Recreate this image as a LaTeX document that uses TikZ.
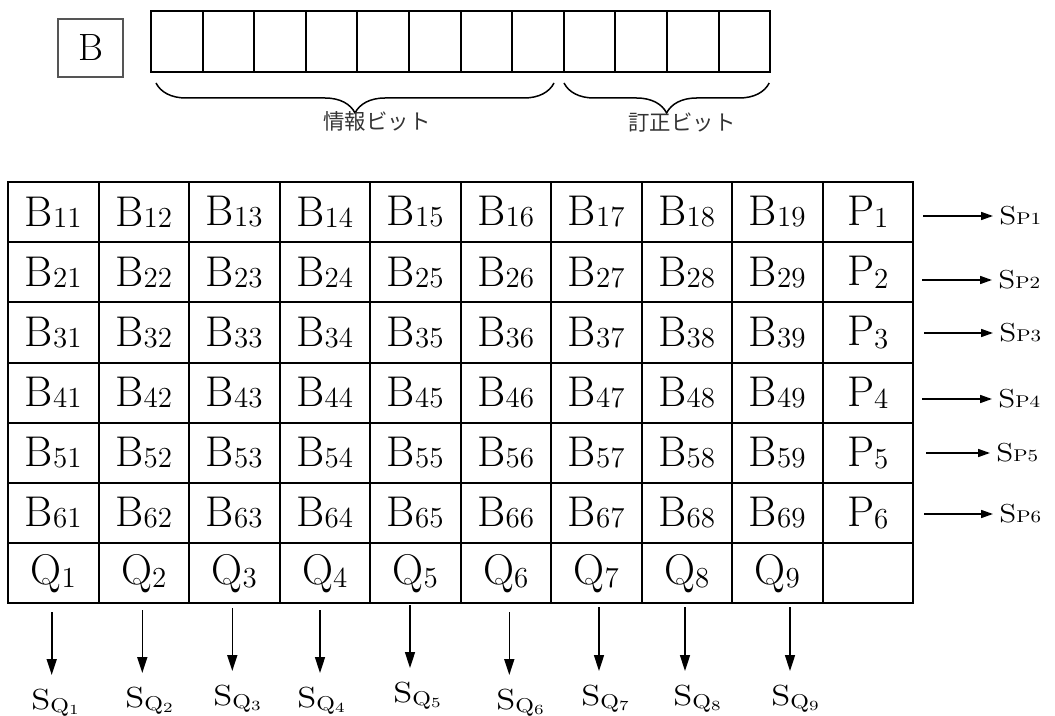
\documentclass[tikz,border=0pt]{standalone}
\usepackage{fontspec}
\usepackage{tikz}
\usetikzlibrary{arrows.meta, positioning, decorations.pathreplacing}
\newfontfamily\jpfont{Noto Sans CJK JP}
\definecolor{boxgray}{HTML}{555555}
\definecolor{jpgray}{HTML}{333333}
\newcommand\sbit[3][-0.5pt]{#2\raisebox{#1}{\fontsize{14.5}{15}\selectfont #3}}
\newcommand\wide[2][1.2]{\scalebox{#1}[1]{#2}}
\newcommand\sq[1]{S\raisebox{-1.2pt}{\fontsize{10}{10}\selectfont Q\raisebox{-1pt}{\fontsize{7}{7}\selectfont #1}}}
\tikzstyle{cellbox} = [rectangle, draw, line width=1pt, minimum width=45.25pt, minimum height=30.1pt,
  inner sep=0pt, font=\fontsize{21.5}{23}\selectfont]
\tikzstyle{bitbox} = [rectangle, draw, line width=1pt, minimum width=25.8pt, minimum height=30.5pt, inner sep=0pt]
\tikzstyle{bbox} = [rectangle, draw=boxgray, line width=0.6pt, minimum width=32.5pt, minimum height=29pt,
  font=\fontsize{19}{21}\selectfont]
\tikzstyle{jplabel} = [font=\jpfont\fontsize{10.7}{12}\selectfont, text=jpgray, inner sep=0pt]
\tikzstyle{bitbrace} = [decorate, decoration={brace, mirror, amplitude=15pt}, line width=0.75pt]
\tikzstyle{arrow} = [line width=0.8pt, -{Triangle[length=6pt, width=4pt]}]
\tikzstyle{downarrow} = [line width=0.8pt, -{Triangle[length=8pt, width=5pt]}]
\tikzstyle{slabel} = [anchor=west, inner sep=3pt, font=\fontsize{13}{15}\selectfont]
\tikzstyle{qlabel} = [anchor=north, inner xsep=0pt, inner ysep=7pt, font=\fontsize{14.5}{16}\selectfont]

\begin{document}
\begin{tikzpicture}[x=0.5pt, y=-0.5pt]
  \useasboundingbox (0,0) rectangle (1055,716);

  % code word
  \node (b) [bbox] at (90.5,48) {B};
  \foreach \i in {1,...,12}
    \node (bit\i) [bitbox] at ({151+51.6*(\i-0.5)},41.5) {};
  \draw[bitbrace] ([xshift=3pt,yshift=-5pt]bit1.south west) -- ([xshift=-5.4pt,yshift=-5pt]bit8.south east);
  \draw[bitbrace] ([xshift=0.6pt,yshift=-5pt]bit9.south west) -- ([xshift=-1pt,yshift=-5pt]bit12.south east);
  \node (info) [jplabel] at (377,121) {情報ビット};
  \node (corr) [jplabel] at (682,123) {訂正ビット};

  % block
  \foreach \r in {1,...,6} {
    \foreach \c in {1,...,9}
      \node (b\r\c) [cellbox] at ({8+90.5*(\c-0.5)},{182+60.2*(\r-0.5)}) {\sbit{B}{\r\c}};
    \node (p\r) [cellbox] at ({8+90.5*9.5},{182+60.2*(\r-0.5)}) {\sbit[-1.2pt]{P}{\r}};
  }
  \foreach \c in {1,...,9}
    \node (q\c) [cellbox] at ({8+90.5*(\c-0.5)},{182+60.2*6.5}) {\sbit[-1.5pt]{Q}{\c}};
  \node (q10) [cellbox] at ({8+90.5*9.5},{182+60.2*6.5}) {};

  % row syndromes
  \foreach \r/\ya/\xs/\xe in {1/216/923/993, 2/280/922/992, 3/333/924/993,
                              4/399/922/992, 5/453/926/990, 6/514/924/993} {
    \coordinate (sps\r) at (\xs,\ya);
    \node (sp\r) [slabel] at (\xe,\ya) {\wide{S{\fontsize{8.5}{8.5}\selectfont P\r}}};
    \draw[arrow] (sps\r) -- (sp\r);
  }

  % column syndromes
  \foreach \q/\xa/\ys/\ye/\xl in {1/51.7/612/675/55, 2/142.3/610/673/149, 3/232.3/608/671/237,
                                  4/320/610/673/321, 5/410/605/668/417, 6/509.3/612/675/520,
                                  7/599/607/671/605, 8/685/607/671/697, 9/790/607/671/795} {
    \coordinate (sqs\q) at (\xa,\ys);
    \node (sq\q) [qlabel] at (\xl,\ye) {\wide[1.2]{\sq{\q}}};
    \draw[downarrow] (sqs\q) -- (sqs\q |- sq\q.north);
  }
\end{tikzpicture}
\end{document}
